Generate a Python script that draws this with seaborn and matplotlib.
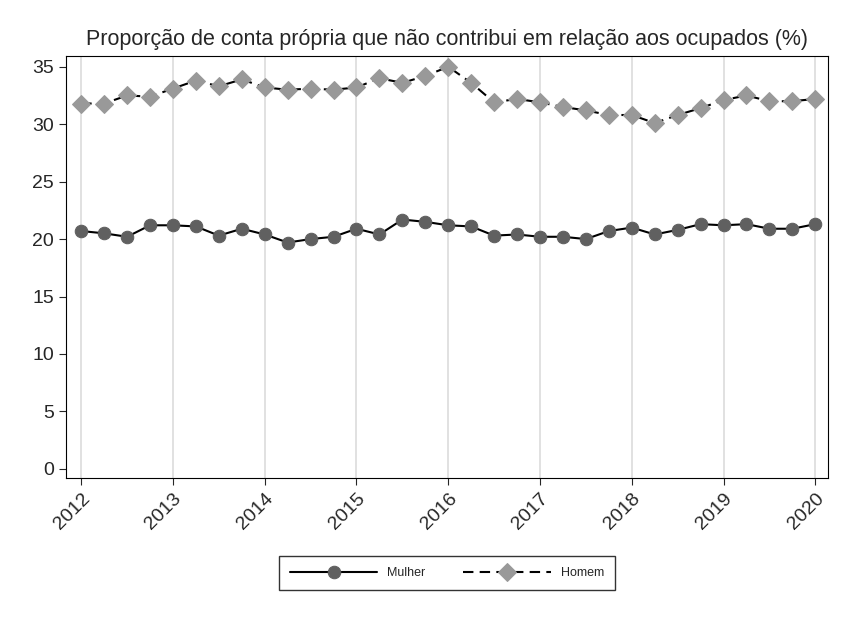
import numpy as np
import pandas as pd
import seaborn as sns
import matplotlib.pyplot as plt

# dados trimestrais 2012T1 - 2020T1
periodo = np.arange(33) / 4 + 2012
mulher = [20.7, 20.5, 20.2, 21.2, 21.2, 21.1, 20.3, 20.9, 20.4, 19.7, 20.0, 20.2,
          20.9, 20.4, 21.7, 21.5, 21.2, 21.1, 20.3, 20.4, 20.2, 20.2, 20.0, 20.7,
          21.0, 20.4, 20.8, 21.3, 21.2, 21.3, 20.9, 20.9, 21.3]
homem = [31.8, 31.8, 32.5, 32.4, 33.1, 33.8, 33.3, 33.9, 33.2, 33.0, 33.1, 33.0,
         33.2, 34.0, 33.6, 34.2, 35.0, 33.6, 31.9, 32.2, 31.9, 31.5, 31.2, 30.8,
         30.8, 30.1, 30.8, 31.4, 32.1, 32.5, 32.0, 32.0, 32.2]
anos = list(range(2012, 2021))

df = pd.DataFrame({'periodo': list(periodo) * 2,
                   'valor': mulher + homem,
                   'sexo': ['Mulher'] * 33 + ['Homem'] * 33})

sns.set_style('white')
plt.rcParams['font.family'] = ['Arial', 'Liberation Sans', 'DejaVu Sans']

fig = plt.figure(figsize=(8.52, 6.2), dpi=100)
ax = fig.add_axes([0.077, 0.229, 0.895, 0.68])
for a in anos:
    ax.axvline(a, color='#dcdcdc', lw=1.2, zorder=0)

sns.lineplot(data=df[df.sexo == 'Mulher'], x='periodo', y='valor', ax=ax,
             color='black', marker='o', markersize=9, markerfacecolor='#606060',
             markeredgecolor='#606060', lw=1.5, label='Mulher')
sns.lineplot(data=df[df.sexo == 'Homem'], x='periodo', y='valor', ax=ax,
             color='black', marker='D', markersize=9, markerfacecolor='#999999',
             markeredgecolor='#999999', lw=1.5, label='Homem')
ax.lines[-1].set_linestyle((0, (5, 3)))

ax.set_xlim(2011.83, 2020.14)
ax.set_ylim(-0.8, 35.9)
ax.set_xticks(anos)
ax.set_xticklabels([str(a) for a in anos], rotation=45, ha='right',
                   rotation_mode='anchor', fontsize=14)
ax.set_yticks(range(0, 36, 5))
ax.tick_params(axis='y', labelsize=14, left=True, length=5)
ax.tick_params(axis='x', bottom=True, length=5)
ax.set_xlabel('')
ax.set_ylabel('')
for s in ax.spines.values():
    s.set_color('black')
ax.set_title('Proporção de conta própria que não contribui em relação aos ocupados (%)',
             fontsize=15.5, pad=8)
leg = ax.legend(loc='upper center', bbox_to_anchor=(0.5, -0.17), ncol=2, frameon=True,
                fancybox=False, edgecolor='black', fontsize=9, handlelength=7,
                columnspacing=3, borderpad=0.9)
fig.savefig('out.png', dpi=100)
